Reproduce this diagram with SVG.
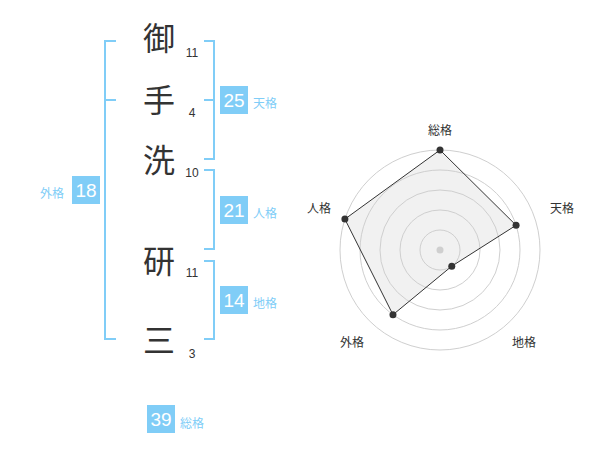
<svg xmlns="http://www.w3.org/2000/svg" width="600" height="470" viewBox="0 0 600 470">
<style>
.kanji{font-family:"Noto Sans CJK JP","Noto Sans CJK SC",sans-serif;font-size:32px;fill:#333;text-anchor:middle}
.num{font-family:"Liberation Sans",Arial,sans-serif;font-size:12px;fill:#333;text-anchor:middle}
.br{fill:none;stroke:#80cdf7;stroke-width:2}
.box{fill:#80cdf7}
.bnum{font-family:"Liberation Sans",Arial,sans-serif;font-size:19px;fill:#fff;text-anchor:middle}
.lbl{font-family:"Noto Sans CJK JP","Noto Sans CJK SC",sans-serif;font-size:12px;fill:#80cdf7}
.ring{fill:none;stroke:#cfcfcf;stroke-width:1}
.rl{font-family:"Noto Sans CJK JP","Noto Sans CJK SC",sans-serif;font-size:12px;fill:#333;text-anchor:middle}
.pt{fill:#333}
</style>
<rect width="600" height="470" fill="#fff"/>
<g id="chars">
<text class="kanji" x="159" y="50">御</text>
<text class="num" x="192" y="57">11</text>
<text class="kanji" x="159" y="112">手</text>
<text class="num" x="192" y="117">4</text>
<text class="kanji" x="159" y="172">洗</text>
<text class="num" x="192" y="177">10</text>
<text class="kanji" x="159" y="273">研</text>
<text class="num" x="192" y="277">11</text>
<text class="kanji" x="159" y="352">三</text>
<text class="num" x="192" y="358">3</text>
</g>
<g id="connectors">
<path class="br" d="M116,41 H105 V339 H116 M105,100 H116"/>
<path class="br" d="M204,41 H214 V159 H204 M214,100 H204"/>
<path class="br" d="M204,170 H214 V249 H204"/>
<path class="br" d="M204,261 H214 V339 H204"/>
</g>
<g id="tenkaku">
<rect class="box" x="220" y="86" width="28" height="28"/>
<text class="bnum" x="234" y="107">25</text>
<text class="lbl" x="253" y="108">天格</text>
</g>
<g id="jinkaku">
<rect class="box" x="220" y="196" width="28" height="28"/>
<text class="bnum" x="234" y="217">21</text>
<text class="lbl" x="253" y="218">人格</text>
</g>
<g id="chikaku">
<rect class="box" x="220" y="286" width="28" height="28"/>
<text class="bnum" x="234" y="307">14</text>
<text class="lbl" x="253" y="308">地格</text>
</g>
<g id="gaikaku">
<rect class="box" x="72" y="176" width="28" height="28"/>
<text class="bnum" x="86" y="197">18</text>
<text class="lbl" x="40" y="198">外格</text>
</g>
<g id="soukaku">
<rect class="box" x="147" y="405" width="28" height="28"/>
<text class="bnum" x="161" y="426">39</text>
<text class="lbl" x="180" y="428">総格</text>
</g>
<g id="radar">
<polygon points="440,150 516.08,225.28 451.76,266.18 392.98,314.72 344.89,219.10" fill="#000" fill-opacity="0.055" stroke="none"/>
<circle class="ring" cx="440" cy="250" r="20"/>
<circle class="ring" cx="440" cy="250" r="40"/>
<circle class="ring" cx="440" cy="250" r="60"/>
<circle class="ring" cx="440" cy="250" r="80"/>
<circle class="ring" cx="440" cy="250" r="100"/>
<circle cx="440" cy="250" r="3.5" fill="#cfcfcf"/>
<polygon points="440,150 516.08,225.28 451.76,266.18 392.98,314.72 344.89,219.10" fill="none" stroke="#333" stroke-width="1"/>
<circle class="pt" cx="440" cy="150" r="3.5"/>
<circle class="pt" cx="516.08" cy="225.28" r="3.5"/>
<circle class="pt" cx="451.76" cy="266.18" r="3.5"/>
<circle class="pt" cx="392.98" cy="314.72" r="3.5"/>
<circle class="pt" cx="344.89" cy="219.10" r="3.5"/>
<text class="rl" x="440" y="135">総格</text>
<text class="rl" x="562" y="213">天格</text>
<text class="rl" x="524" y="347">地格</text>
<text class="rl" x="352" y="347">外格</text>
<text class="rl" x="319" y="213">人格</text>
</g>
</svg>
